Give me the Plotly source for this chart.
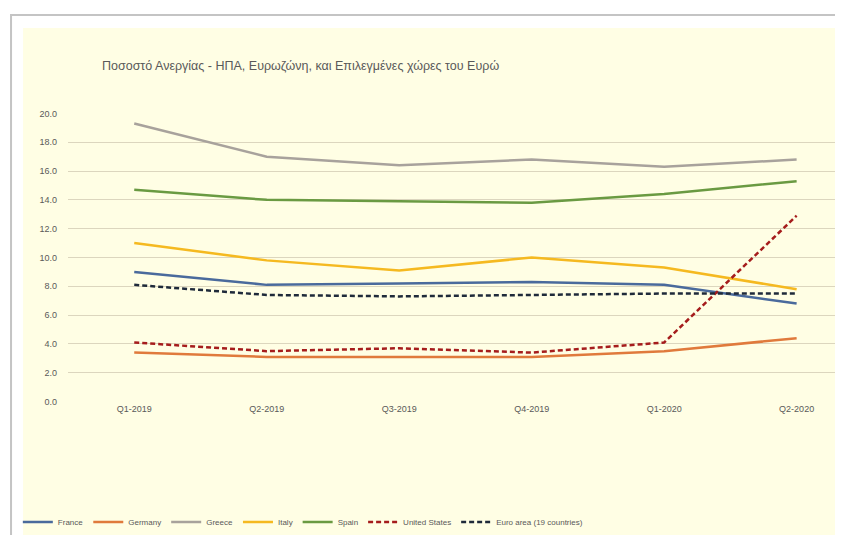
import plotly.graph_objects as go

quarters = ["Q1-2019", "Q2-2019", "Q3-2019", "Q4-2019", "Q1-2020", "Q2-2020"]

france = [9.0, 8.1, 8.2, 8.3, 8.1, 6.8]
germany = [3.4, 3.1, 3.1, 3.1, 3.5, 4.4]
greece = [19.3, 17.0, 16.4, 16.8, 16.3, 16.8]
italy = [11.0, 9.8, 9.1, 10.0, 9.3, 7.8]
spain = [14.7, 14.0, 13.9, 13.8, 14.4, 15.3]
united_states = [4.1, 3.5, 3.7, 3.4, 4.1, 12.9]
euro_area = [8.1, 7.4, 7.3, 7.4, 7.5, 7.5]

series = [
    ("France", france, "#4A6A9C", "solid"),
    ("Germany", germany, "#E07A3C", "solid"),
    ("Greece", greece, "#A8A29C", "solid"),
    ("Italy", italy, "#F5B920", "solid"),
    ("Spain", spain, "#6A9A42", "solid"),
    ("United States", united_states, "#A51C1C", "5px,3px"),
    ("Euro area (19 countries)", euro_area, "#1F2A3A", "5px,3px"),
]

FONT = "Liberation Sans Narrow, Arial Narrow, Liberation Sans, sans-serif"
GRID = "#DCD6BE"
TEXT = "#595959"

fig = go.Figure()
for name, values, color, dash in series:
    fig.add_trace(
        go.Scatter(
            x=quarters, y=values, mode="lines", name=name,
            line={"color": color, "width": 2.5, "dash": dash},
        )
    )

# page: white with grey frame, cream chart area
fig.add_shape(
    type="rect", xref="paper", yref="paper", layer="below",
    x0=-0.0735, x1=1.03, y0=-0.5, y1=1.339,
    fillcolor="white", line={"color": "#C4C4C4", "width": 2},
)
fig.add_shape(
    type="rect", xref="paper", yref="paper", layer="below",
    x0=-0.058, x1=1.03, y0=-0.5, y1=1.294,
    fillcolor="#FFFEE4", line={"width": 0},
)

fig.add_annotation(
    text="Ποσοστό Ανεργίας - ΗΠΑ, Ευρωζώνη, και Επιλεγμένες χώρες του Ευρώ",
    xref="paper", yref="paper", x=0.0413, y=1.163,
    xanchor="left", yanchor="middle", showarrow=False,
    font={"family": FONT, "size": 12.5, "color": TEXT},
)

# the page body adds an 8px offset, so margins are set 8px smaller
fig.update_layout(
    width=843, height=535,
    margin={"l": 60, "r": 8, "t": 105, "b": 141, "autoexpand": False},
    paper_bgcolor="white",
    plot_bgcolor="rgba(0,0,0,0)",
    font={"family": FONT, "size": 9, "color": TEXT},
    showlegend=True,
    legend={
        "orientation": "h", "x": 0.303, "y": -0.415,
        "xanchor": "center", "yanchor": "middle",
        "bgcolor": "rgba(0,0,0,0)", "font": {"size": 8, "color": TEXT},
        "itemwidth": 30,
    },
    xaxis={
        "range": [-0.5, 5.35], "showgrid": False, "showline": False,
        "ticks": "", "tickfont": {"size": 9, "color": TEXT},
    },
    yaxis={
        "range": [-0.03, 20.03], "dtick": 2, "tick0": 0, "tickformat": ".1f",
        "showgrid": True, "gridcolor": GRID, "gridwidth": 1.2,
        "zeroline": False, "showline": False, "ticks": "",
        "ticklabelstandoff": 10, "tickfont": {"size": 9, "color": TEXT},
    },
)

fig.write_html("out.html")
